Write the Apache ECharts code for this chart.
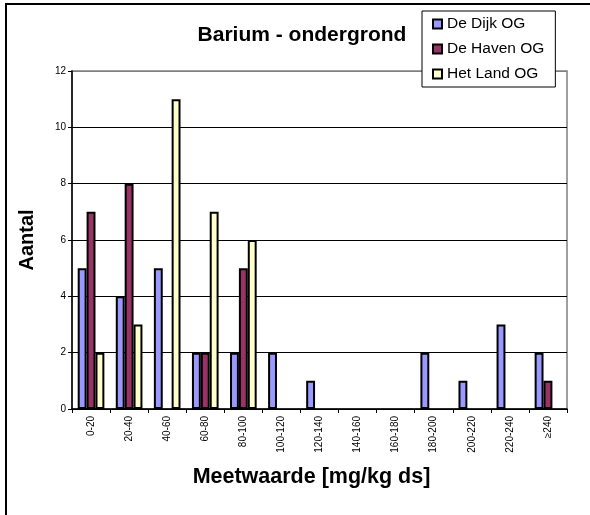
<!DOCTYPE html>
<html>
<head>
<meta charset="utf-8">
<script src="https://cdn.jsdelivr.net/npm/echarts@6/dist/echarts.min.js"></script>
<style>
  html, body { margin: 0; padding: 0; background: #fff; }
  #chart { width: 590px; height: 515px; }
</style>
</head>
<body>
<div id="chart"></div>
<script>
// Barium in de ondergrond: aantal metingen per klasse
const categories = ['0-20', '20-40', '40-60', '60-80', '80-100', '100-120', '120-140',
  '140-160', '160-180', '180-200', '200-220', '220-240', '\u2265240'];
const deDijk  = [5, 4, 5, 2, 2, 2, 1, 0, 0, 2, 1, 3, 2];
const deHaven = [7, 8, 0, 2, 5, 0, 0, 0, 0, 0, 0, 0, 1];
const hetLand = [2, 3, 11, 7, 6, 0, 0, 0, 0, 0, 0, 0, 0];
const seriesNames = ['De Dijk OG', 'De Haven OG', 'Het Land OG'];
const seriesColors = ['#9999ff', '#993366', '#ffffcc'];
const yTicks = [0, 2, 4, 6, 8, 10, 12];

const FONT = 'Liberation Sans, Arial, sans-serif';

// empty classes are left without a bar
const toBars = arr => arr.map(v => (v === 0 ? '-' : v));

const chart = echarts.init(document.getElementById('chart'), null, { renderer: 'canvas' });

const series = [deDijk, deHaven, hetLand].map((vals, i) => ({
  name: seriesNames[i],
  type: 'bar',
  data: toBars(vals),
  barGap: '0%',
  barCategoryGap: '30%',
  itemStyle: { color: seriesColors[i], borderColor: '#000', borderWidth: 2 },
  emphasis: { disabled: true }
}));

// gridlines are black, the top edge belongs to the grey plot frame
const gridColors = yTicks.map((t, i) => (i === yTicks.length - 1 ? '#808080' : '#000'));

chart.setOption({
  animation: false,
  backgroundColor: '#fff',
  textStyle: { fontFamily: FONT },
  title: {
    text: 'Barium - ondergrond',
    left: 297, top: 20, textAlign: 'center',
    textStyle: { fontSize: 21, fontWeight: 'bold', color: '#000', fontFamily: FONT }
  },
  legend: {
    orient: 'vertical',
    left: 422, top: 11,
    padding: [4, 11, 4, 10],
    itemGap: 7,
    itemWidth: 9, itemHeight: 9,
    icon: 'rect',
    backgroundColor: '#fff',
    borderColor: '#000', borderWidth: 1,
    itemStyle: { borderColor: '#000', borderWidth: 2 },
    textStyle: { fontSize: 15.5, lineHeight: 18, color: '#000', fontFamily: FONT },
    data: seriesNames,
    selectedMode: false,
    z: 10
  },
  grid: {
    left: 72, top: 71, right: 23, bottom: 106,
    show: true, borderColor: '#808080', borderWidth: 1.5, backgroundColor: '#fff'
  },
  xAxis: {
    type: 'category',
    data: categories,
    name: 'Meetwaarde [mg/kg ds]',
    nameLocation: 'middle',
    nameGap: 57,
    nameTextStyle: { fontSize: 21.5, fontWeight: 'bold', color: '#000', fontFamily: FONT, padding: [0, 16, 0, 0] },
    axisLine: { lineStyle: { color: '#000', width: 1.5 } },
    axisTick: { show: true, length: 4, alignWithLabel: false, lineStyle: { color: '#000', width: 1 } },
    axisLabel: { rotate: 90, fontSize: 10, color: '#000', margin: 7, interval: 0, fontFamily: FONT }
  },
  yAxis: {
    type: 'value',
    min: yTicks[0], max: yTicks[yTicks.length - 1], interval: 2,
    name: 'Aantal',
    nameLocation: 'middle',
    nameGap: 35,
    nameTextStyle: { fontSize: 20, fontWeight: 'bold', color: '#000', fontFamily: FONT },
    axisLine: { show: true, lineStyle: { color: '#000', width: 1.5 } },
    axisTick: { show: true, length: 4, inside: false, lineStyle: { color: '#000' } },
    axisLabel: { fontSize: 10, color: '#000', margin: 6, fontFamily: FONT },
    splitLine: { show: true, lineStyle: { color: gridColors, width: 1 } }
  },
  graphic: [{
    type: 'rect',
    shape: { x: 6, y: 4, width: 640, height: 600 },
    style: { fill: 'none', stroke: '#000', lineWidth: 2 },
    silent: true, z: 100
  }],
  series: series
});
</script>
</body>
</html>
